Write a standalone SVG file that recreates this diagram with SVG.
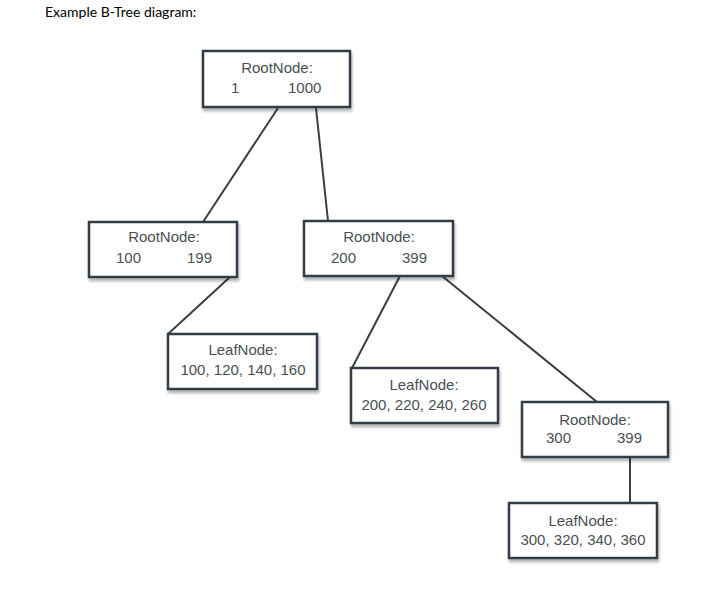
<svg xmlns="http://www.w3.org/2000/svg" width="715" height="612" viewBox="0 0 715 612">
<defs>
<filter id="sh" x="-10%" y="-10%" width="130%" height="140%">
<feGaussianBlur in="SourceAlpha" stdDeviation="1.5"/>
<feOffset dx="1" dy="3" result="b"/>
<feComponentTransfer><feFuncA type="linear" slope="0.3"/></feComponentTransfer>
<feMerge><feMergeNode/><feMergeNode in="SourceGraphic"/></feMerge>
</filter>
</defs>
<style>
.box{fill:#fff;stroke:#333d47;stroke-width:2.5;filter:url(#sh)}
.t{font-family:"Liberation Sans",Arial,sans-serif;font-size:15px;fill:#4b4f55}
.m{text-anchor:middle}
.e{stroke:#3a3f44;stroke-width:2;fill:none}
.title{font-family:Lato,"Open Sans",sans-serif;font-size:14px;fill:#000}
</style>
<rect width="715" height="612" fill="#fff"/>
<text class="title" x="45" y="17">Example B-Tree diagram:</text>
<g id="connectors">
<line class="e" x1="278" y1="108" x2="203" y2="222"/>
<line class="e" x1="316" y1="108" x2="328" y2="221"/>
<line class="e" x1="230" y1="277" x2="168" y2="334"/>
<line class="e" x1="400" y1="276" x2="352" y2="368"/>
<line class="e" x1="442" y1="276" x2="597" y2="402"/>
<line class="e" x1="630" y1="457" x2="630" y2="503"/>
</g>
<g id="root">
<rect class="box" x="203" y="51" width="147" height="56"/>
<text class="t m" x="277" y="73">RootNode:</text>
<text class="t" x="231" y="93">1</text>
<text class="t" x="288" y="93">1000</text>
</g>
<g id="n100">
<rect class="box" x="89" y="222" width="148" height="55"/>
<text class="t m" x="164" y="242">RootNode:</text>
<text class="t" x="116" y="263">100</text>
<text class="t" x="187" y="263">199</text>
</g>
<g id="n200">
<rect class="box" x="304" y="221" width="149" height="55"/>
<text class="t m" x="379" y="242">RootNode:</text>
<text class="t" x="331" y="263">200</text>
<text class="t" x="402" y="263">399</text>
</g>
<g id="leaf100">
<rect class="box" x="168" y="334" width="149" height="55"/>
<text class="t m" x="243" y="355">LeafNode:</text>
<text class="t m" x="243" y="375">100, 120, 140, 160</text>
</g>
<g id="leaf200">
<rect class="box" x="351" y="368" width="147" height="55"/>
<text class="t m" x="424" y="390">LeafNode:</text>
<text class="t m" x="424" y="410">200, 220, 240, 260</text>
</g>
<g id="n300">
<rect class="box" x="522" y="402" width="146" height="55"/>
<text class="t m" x="595" y="425">RootNode:</text>
<text class="t" x="546" y="443">300</text>
<text class="t" x="617" y="443">399</text>
</g>
<g id="leaf300">
<rect class="box" x="509" y="503" width="148" height="55"/>
<text class="t m" x="583" y="526">LeafNode:</text>
<text class="t m" x="583" y="545">300, 320, 340, 360</text>
</g>
</svg>
